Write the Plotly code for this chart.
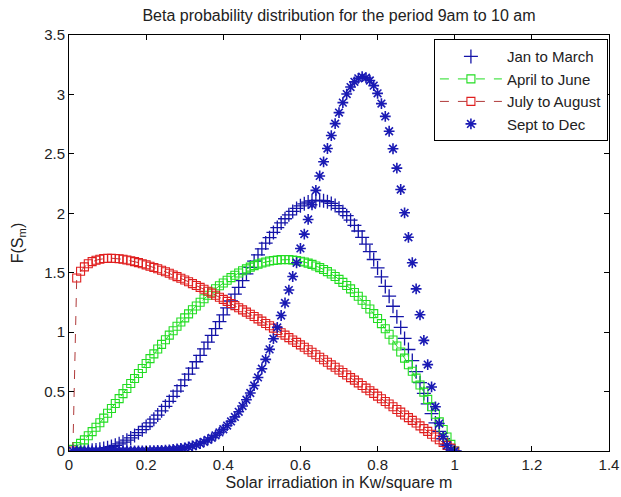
import plotly.graph_objects as go

# Solar irradiation grid (Kw/square m)
x = [0.01, 0.02, 0.03, 0.04, 0.05, 0.06, 0.07, 0.08, 0.09, 0.10,
     0.11, 0.12, 0.13, 0.14, 0.15, 0.16, 0.17, 0.18, 0.19, 0.20,
     0.21, 0.22, 0.23, 0.24, 0.25, 0.26, 0.27, 0.28, 0.29, 0.30,
     0.31, 0.32, 0.33, 0.34, 0.35, 0.36, 0.37, 0.38, 0.39, 0.40,
     0.41, 0.42, 0.43, 0.44, 0.45, 0.46, 0.47, 0.48, 0.49, 0.50,
     0.51, 0.52, 0.53, 0.54, 0.55, 0.56, 0.57, 0.58, 0.59, 0.60,
     0.61, 0.62, 0.63, 0.64, 0.65, 0.66, 0.67, 0.68, 0.69, 0.70,
     0.71, 0.72, 0.73, 0.74, 0.75, 0.76, 0.77, 0.78, 0.79, 0.80,
     0.81, 0.82, 0.83, 0.84, 0.85, 0.86, 0.87, 0.88, 0.89, 0.90,
     0.91, 0.92, 0.93, 0.94, 0.95, 0.96, 0.97, 0.98, 0.99, 1.00]

jan_to_march = [
    0.000, 0.000, 0.001, 0.002, 0.003, 0.006, 0.009, 0.014, 0.020, 0.028,
    0.037, 0.048, 0.060, 0.075, 0.091, 0.110, 0.131, 0.154, 0.179, 0.206,
    0.236, 0.268, 0.302, 0.338, 0.376, 0.417, 0.459, 0.503, 0.550, 0.598,
    0.647, 0.698, 0.751, 0.805, 0.860, 0.916, 0.972, 1.030, 1.088, 1.146,
    1.204, 1.262, 1.320, 1.377, 1.434, 1.490, 1.545, 1.598, 1.650, 1.701,
    1.749, 1.795, 1.839, 1.880, 1.919, 1.954, 1.987, 2.016, 2.041, 2.063,
    2.080, 2.094, 2.104, 2.108, 2.109, 2.106, 2.097, 2.083, 2.065, 2.042,
    2.013, 1.980, 1.942, 1.899, 1.851, 1.798, 1.740, 1.677, 1.611, 1.540,
    1.465, 1.385, 1.303, 1.218, 1.130, 1.040, 0.947, 0.854, 0.761, 0.667,
    0.575, 0.484, 0.397, 0.314, 0.236, 0.165, 0.103, 0.052, 0.016, 0.000]

april_to_june = [
    0.014, 0.037, 0.064, 0.094, 0.128, 0.163, 0.200, 0.238, 0.277, 0.317,
    0.358, 0.400, 0.441, 0.483, 0.526, 0.568, 0.610, 0.652, 0.694, 0.736,
    0.777, 0.817, 0.858, 0.897, 0.936, 0.975, 1.012, 1.049, 1.085, 1.120,
    1.154, 1.188, 1.220, 1.251, 1.281, 1.310, 1.338, 1.365, 1.390, 1.414,
    1.437, 1.459, 1.479, 1.498, 1.516, 1.532, 1.547, 1.560, 1.572, 1.582,
    1.590, 1.598, 1.603, 1.607, 1.610, 1.611, 1.610, 1.607, 1.603, 1.597,
    1.590, 1.581, 1.570, 1.557, 1.543, 1.527, 1.509, 1.489, 1.468, 1.444,
    1.419, 1.393, 1.364, 1.334, 1.302, 1.268, 1.232, 1.195, 1.156, 1.115,
    1.072, 1.028, 0.982, 0.934, 0.884, 0.833, 0.781, 0.726, 0.671, 0.613,
    0.555, 0.495, 0.434, 0.372, 0.309, 0.245, 0.181, 0.118, 0.056, 0.000]

july_to_august = [
    0.000, 1.455, 1.512, 1.549, 1.575, 1.593, 1.605, 1.613, 1.619, 1.621,
    1.622, 1.620, 1.617, 1.613, 1.607, 1.601, 1.593, 1.585, 1.576, 1.566,
    1.555, 1.544, 1.533, 1.521, 1.508, 1.495, 1.481, 1.467, 1.453, 1.439,
    1.424, 1.408, 1.393, 1.377, 1.361, 1.344, 1.328, 1.311, 1.294, 1.276,
    1.259, 1.241, 1.223, 1.205, 1.187, 1.168, 1.150, 1.131, 1.112, 1.093,
    1.073, 1.054, 1.034, 1.014, 0.995, 0.975, 0.954, 0.934, 0.914, 0.893,
    0.873, 0.852, 0.831, 0.810, 0.789, 0.768, 0.747, 0.725, 0.704, 0.682,
    0.661, 0.639, 0.617, 0.596, 0.573, 0.551, 0.529, 0.507, 0.485, 0.462,
    0.440, 0.417, 0.395, 0.372, 0.349, 0.327, 0.303, 0.281, 0.258, 0.235,
    0.211, 0.188, 0.165, 0.141, 0.118, 0.095, 0.071, 0.047, 0.024, 0.000]

sept_to_dec = [
    0.000, 0.000, 0.000, 0.000, 0.000, 0.000, 0.000, 0.000, 0.000, 0.000,
    0.000, 0.000, 0.000, 0.000, 0.000, 0.000, 0.000, 0.000, 0.001, 0.001,
    0.002, 0.003, 0.004, 0.006, 0.008, 0.010, 0.013, 0.017, 0.021, 0.027,
    0.034, 0.042, 0.052, 0.063, 0.077, 0.093, 0.111, 0.132, 0.156, 0.183,
    0.214, 0.249, 0.287, 0.330, 0.378, 0.431, 0.488, 0.551, 0.619, 0.692,
    0.771, 0.855, 0.945, 1.040, 1.140, 1.245, 1.354, 1.468, 1.584, 1.704,
    1.825, 1.948, 2.072, 2.193, 2.314, 2.433, 2.545, 2.654, 2.754, 2.847,
    2.931, 3.003, 3.062, 3.106, 3.135, 3.149, 3.141, 3.117, 3.074, 3.009,
    2.923, 2.815, 2.690, 2.543, 2.380, 2.200, 2.004, 1.798, 1.584, 1.364,
    1.146, 0.931, 0.727, 0.539, 0.372, 0.231, 0.122, 0.048, 0.009, 0.000]

x_ticks = [0, 0.2, 0.4, 0.6, 0.8, 1.0, 1.2, 1.4]
x_tick_labels = ["0", "0.2", "0.4", "0.6", "0.8", "1", "1.2", "1.4"]
y_ticks = [0, 0.5, 1.0, 1.5, 2.0, 2.5, 3.0, 3.5]
y_tick_labels = ["0", "0.5", "1", "1.5", "2", "2.5", "3", "3.5"]

BLUE = "#1414a8"
STAR_BLUE = "#1a1ab4"
GREEN = "#22dd22"
RED = "#e01e1e"
RED_LINE = "#b03a3a"
FONT = "Liberation Sans, Arial, sans-serif"
TXT = "#222222"

fig = go.Figure()
fig.add_trace(go.Scatter(
    x=x, y=jan_to_march, mode="markers", name="Jan to March",
    marker=dict(symbol="cross-thin-open", size=10, color=BLUE,
                line=dict(color=BLUE, width=1.3))))
fig.add_trace(go.Scatter(
    x=x, y=april_to_june, mode="lines+markers", name="April to June",
    line=dict(color=GREEN, width=1, dash="dash"),
    marker=dict(symbol="square-open", size=8, color=GREEN,
                line=dict(color=GREEN, width=1.1))))
fig.add_trace(go.Scatter(
    x=x, y=july_to_august, mode="lines+markers", name="July to August",
    line=dict(color=RED_LINE, width=1, dash="dash"),
    marker=dict(symbol="square-open", size=8, color=RED,
                line=dict(color=RED, width=1.1))))
fig.add_trace(go.Scatter(
    x=x, y=sept_to_dec, mode="markers", name="Sept to Dec",
    marker=dict(symbol="asterisk-open", size=9, color=STAR_BLUE,
                line=dict(color=STAR_BLUE, width=1.6))))

axis_common = dict(
    showline=True, linecolor="black", linewidth=1, mirror="ticks",
    ticks="inside", ticklen=5, tickcolor="black", tickwidth=1,
    showgrid=False, zeroline=False, ticklabeloverflow="allow",
    automargin=False,
    tickfont=dict(family=FONT, size=15, color=TXT),
)

fig.update_layout(
    width=621, height=497,
    margin=dict(l=69, r=12, t=35, b=46),
    paper_bgcolor="white", plot_bgcolor="white",
    font=dict(family=FONT, size=16, color=TXT),
    title=dict(text="Beta probability distribution for the period 9am to 10 am",
               x=0.5, xref="paper", y=1 - 15 / 497, yanchor="middle",
               font=dict(family=FONT, size=16, color=TXT)),
    xaxis=dict(range=[0, 1.4], tickvals=x_ticks, ticktext=x_tick_labels,
               title=dict(text="Solar irradiation in Kw/square m", standoff=4,
                          font=dict(family=FONT, size=16, color=TXT)),
               **axis_common),
    yaxis=dict(range=[0, 3.5], tickvals=y_ticks, ticktext=y_tick_labels,
               title=dict(text="F(S<sub>m</sub>)", standoff=16,
                          font=dict(family=FONT, size=16, color=TXT)),
               **axis_common),
    legend=dict(x=0.998, xanchor="right", y=0.99, yanchor="top",
                bgcolor="white", bordercolor="black", borderwidth=1,
                font=dict(family=FONT, size=15, color=TXT),
                itemwidth=62, tracegroupgap=0),
    showlegend=True,
)

fig.write_html("out.html")
